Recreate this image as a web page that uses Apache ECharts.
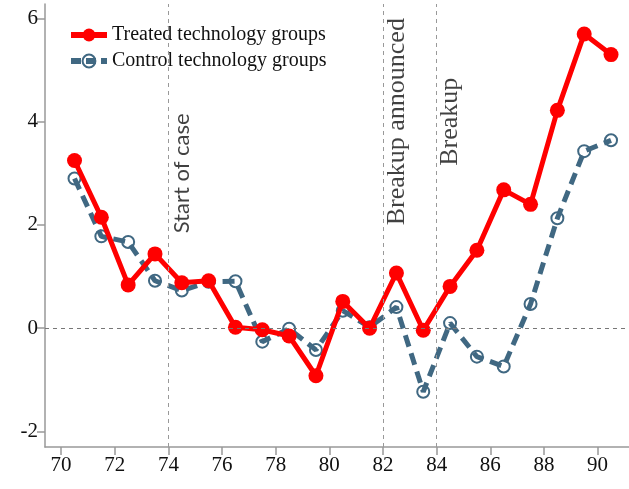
<!DOCTYPE html>
<html>
<head>
<meta charset="utf-8">
<script src="https://cdn.jsdelivr.net/npm/echarts@6/dist/echarts.min.js"></script>
<style>
  html, body { margin: 0; padding: 0; background: #fff; }
  #main { width: 629px; height: 489px; }
</style>
</head>
<body>
<div id="main"></div>
<script>
// 年份（每期中点）
const years = [70.5, 71.5, 72.5, 73.5, 74.5, 75.5, 76.5, 77.5, 78.5, 79.5, 80.5,
               81.5, 82.5, 83.5, 84.5, 85.5, 86.5, 87.5, 88.5, 89.5, 90.5];
const treated = [3.25, 2.15, 0.84, 1.44, 0.88, 0.92, 0.02, -0.03, -0.15, -0.92, 0.52,
                 0.0, 1.07, -0.04, 0.81, 1.51, 2.68, 2.40, 4.22, 5.70, 5.30];
const control = [2.90, 1.78, 1.67, 0.92, 0.73, 0.90, 0.91, -0.26, -0.01, -0.42, 0.34,
                 0.02, 0.41, -1.23, 0.10, -0.55, -0.74, 0.47, 2.13, 3.43, 3.64];
const xTicks = [70, 72, 74, 76, 78, 80, 82, 84, 86, 88, 90];
const yTicks = [-2, 0, 2, 4, 6];
// 事件竖线
const eventYears = [74, 82, 84];
const eventNames = ['Start of case', 'Breakup announced', 'Breakup'];
const eventLabelY = [3.0, 4.0, 4.0];

const serif = '"Liberation Serif", serif';
const chart = echarts.init(document.getElementById('main'));

const pair = (xs, ys) => xs.map((x, i) => [x, ys[i]]);

const option = {
  animation: false,
  grid: { left: 45, right: 0, top: 4, bottom: 42 },
  legend: {
    orient: 'vertical',
    left: 63, top: 20,
    itemWidth: 36, itemHeight: 16, itemGap: 6,
    data: [
      { name: 'Treated technology groups', lineStyle: { width: 6 } },
      { name: 'Control technology groups', lineStyle: { width: 6, type: [10, 5] } }
    ],
    textStyle: { fontFamily: serif, fontSize: 20, color: '#111', padding: [0, 0, 0, 0] }
  },
  xAxis: {
    type: 'value', min: 69.4, max: 91.17,
    splitLine: { show: false },
    axisLine: { onZero: false, lineStyle: { color: '#999', width: 1.5 } },
    axisTick: { customValues: xTicks, length: 8, lineStyle: { color: '#999', width: 1.5 } },
    axisLabel: { customValues: xTicks, margin: 8, fontFamily: serif, fontSize: 21, color: '#111' }
  },
  yAxis: {
    type: 'value', min: -2.3, max: 6.28,
    splitLine: { show: false },
    axisLine: { show: true, onZero: false, lineStyle: { color: '#999', width: 1.5 } },
    axisTick: { show: true, customValues: yTicks, length: 8, lineStyle: { color: '#999', width: 1.5 } },
    axisLabel: { customValues: yTicks, margin: 7, fontFamily: serif, fontSize: 21, color: '#111' }
  },
  series: [
    {
      name: 'Control technology groups',
      type: 'line', z: 2,
      data: pair(years, control),
      symbol: 'circle', symbolSize: 12,
      lineStyle: { color: '#406882', width: 5, type: [12, 7] },
      itemStyle: { color: 'rgba(255,255,255,0)', borderColor: '#406882', borderWidth: 2 },
      markLine: {
        silent: true, symbol: 'none', label: { show: false },
        lineStyle: { color: '#999', width: 1, type: [4, 4] },
        data: eventYears.map(x => ({ xAxis: x }))
          .concat([{ yAxis: 0, lineStyle: { color: '#777', width: 1.2, type: [4, 4] } }])
      }
    },
    {
      name: 'Treated technology groups',
      type: 'line', z: 3,
      data: pair(years, treated),
      symbol: 'circle', symbolSize: 15,
      lineStyle: { color: '#ff0000', width: 5 },
      itemStyle: { color: '#ff0000' }
    },
    {
      // 事件文字
      type: 'scatter', z: 4, silent: true,
      symbolSize: 0,
      data: eventYears.map((x, i) => ({ name: eventNames[i], value: [x + 0.52, eventLabelY[i]] })),
      label: {
        show: true, position: 'inside', rotate: 90,
        formatter: p => p.name,
        fontFamily: serif, fontSize: 26, color: '#111'
      }
    }
  ]
};
option.series[2].data[0].label = { fontFamily: 'Lato, sans-serif', fontSize: 22 };

chart.setOption(option);
</script>
</body>
</html>
